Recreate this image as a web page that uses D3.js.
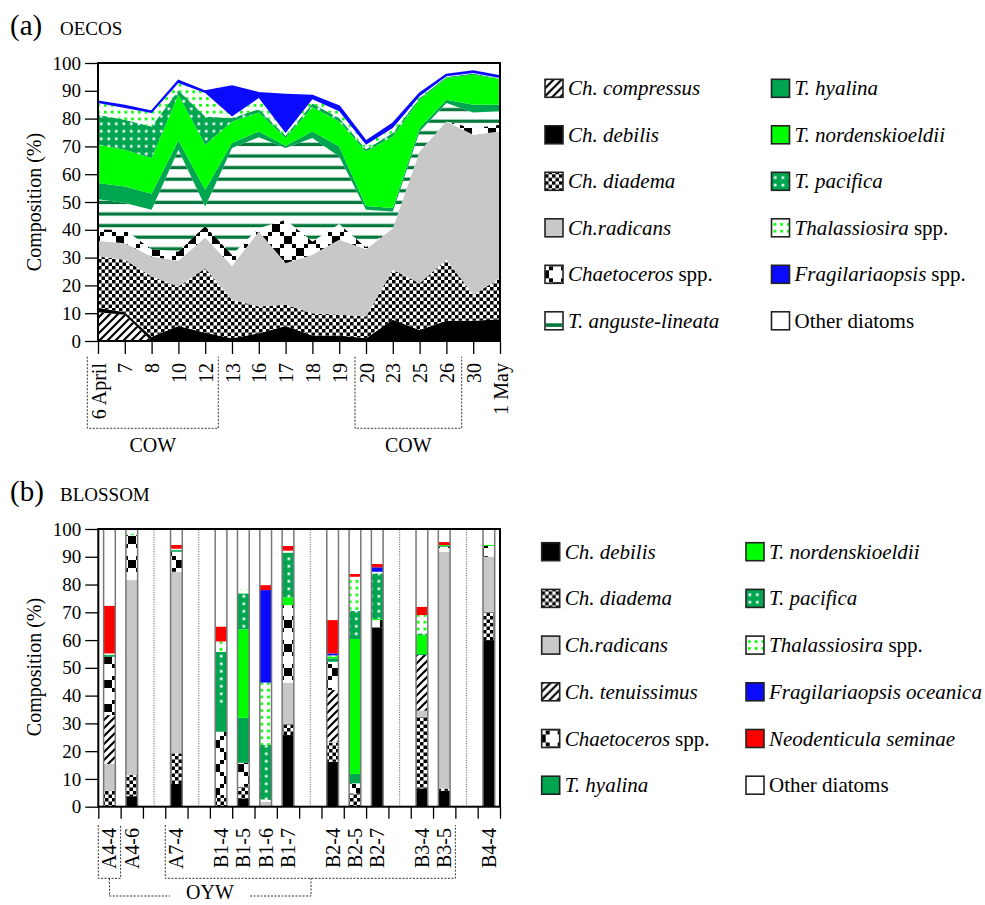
<!DOCTYPE html>
<html>
<head>
<meta charset="utf-8">
<script src="https://cdn.jsdelivr.net/npm/d3@7"></script>
<style>
  body { margin: 0; background: #fff; }
  svg text { font-family: "Liberation Serif", "Times New Roman", serif; fill: #000; }
</style>
</head>
<body>
<svg id="fig" width="985" height="905"></svg>
<script>
// ---------- (a) OECOS: daily composition (%) ----------
const oecosDates = ["6 April", "7", "8", "10", "12", "13", "16", "17", "18", "19", "20", "23", "25", "26", "30", "1 May"];
const aCompressus  = [10.3, 9.4, 0, 0, 0, 0, 0, 0, 0, 0, 0, 0, 0, 0, 0, 0];
const aDebilis     = [1.7, 0.9, 1.5, 5.4, 3.0, 1.0, 2.8, 5.4, 2.0, 2.0, 1.0, 7.6, 4.0, 7.3, 7.3, 7.8];
const aDiadema     = [18.4, 18.9, 21.7, 14.2, 23.2, 13.8, 9.6, 7.6, 8.0, 7.4, 7.8, 18.0, 16.8, 21.9, 9.3, 14.8];
const aRadicans    = [5.7, 6.0, 7.2, 9.3, 11.0, 12.2, 27.0, 15.0, 21.0, 27.0, 24.2, 15.0, 47.4, 49.8, 57.6, 52.8];
const aChaetSpp    = [4.1, 4.8, 2.6, 3.3, 4.2, 4.0, 1.2, 15.6, 4.8, 5.7, 0.7, 0, 0, 0, 2.4, 2.4];
const aAnguste     = [10.8, 9.6, 14.2, 36.6, 7.0, 38.4, 32.7, 25.8, 37.2, 24.3, 13.5, 6.0, 7.2, 6.6, 5.6, 4.8];
const aHyalina     = [5.8, 6.0, 5.8, 3.3, 6.0, 1.8, 2.1, 0.8, 2.4, 3.6, 1.4, 1.2, 1.2, 1.2, 2.8, 2.4];
const aNordensk    = [13.8, 13.2, 12.8, 16.5, 16.2, 7.8, 6.8, 2.8, 8.8, 9.0, 19.6, 25.8, 10.2, 7.8, 10.8, 9.2];
const aPacifica    = [10.8, 10.8, 11.4, 1.6, 10.2, 1.2, 1.2, 0.8, 1.2, 1.2, 0.8, 1.2, 0.6, 0.4, 0.4, 0.2];
const aThalSpp     = [4.2, 4.2, 4.8, 2.6, 8.4, 0.6, 4.0, 1.0, 1.6, 2.4, 1.6, 1.8, 0.6, 0.2, 0.2, 0.2];
const aFragSpp     = [0.6, 0.8, 0.6, 0.8, 0.6, 10.8, 1.8, 13.8, 1.2, 1.8, 1.2, 1.6, 1.0, 0.6, 0.6, 0.6];

// ---------- (b) BLOSSOM: composition (%) per station ----------
const blossomSlots = ["A4-4", "A4-6", "", "A7-4", "", "B1-4", "B1-5", "B1-6", "B1-7", "", "B2-4", "B2-5", "B2-7", "", "B3-4", "B3-5", "", "B4-4"];
const bDebilis     = [0, 3.8, 8.2, 0, 3.0, 0, 25.8, 16.2, 0, 64.6, 6.6, 5.8, 60.0];
const bDiadema     = [5.8, 7.6, 11.0, 4.2, 4.2, 0, 4.0, 6.8, 4.8, 0, 25.8, 0.7, 10.2];
const bRadicans    = [9.6, 70.2, 65.4, 0, 0, 1.8, 14.9, 0.4, 0, 0, 2.2, 85.3, 19.8];
const bTenuissimus = [17.6, 0, 0, 0, 0, 0, 0, 18.6, 0, 0, 20.0, 0, 0];
const bChaetSpp    = [21.0, 16.2, 7.2, 22.8, 8.6, 0.8, 27.9, 10.2, 3.6, 2.6, 0, 1.8, 3.9];
const bHyalina     = [0.6, 0, 0.6, 9.6, 16.2, 0, 0, 1.2, 3.4, 0, 0.4, 0.3, 0];
const bNordensk    = [0, 0, 0, 0, 31.9, 0, 2.8, 0.6, 48.6, 0.4, 6.8, 0.3, 0.4];
const bPacifica    = [0, 0, 0, 19.2, 12.9, 19.6, 16.1, 0, 10.1, 16.4, 0.6, 0, 0];
const bThalSpp     = [0.6, 0.6, 0.5, 3.7, 1.5, 22.5, 0.7, 0.5, 12.3, 0.6, 6.6, 0, 0.3];
const bFragOceanica= [0, 0, 0, 0, 0, 33.3, 0, 0.7, 0, 1.6, 0, 0, 0];
const bNeodent     = [17.2, 0, 1.4, 5.4, 0, 1.8, 1.7, 12.0, 1.0, 1.2, 3.0, 1.1, 0];

const yTicks = d3.range(0, 101, 10);

// ---------- drawing ----------
const svg = d3.select("#fig");
const defs = svg.append("defs");

function pattern(id, w, h, draw) {
  const p = defs.append("pattern").attr("id", id)
    .attr("patternUnits", "userSpaceOnUse").attr("width", w).attr("height", h);
  draw(p);
}
// diagonal hatch
pattern("hatch", 8, 8, p => {
  p.append("rect").attr("width", 8).attr("height", 8).attr("fill", "#fff");
  p.append("path").attr("d", "M-1,9 L9,-1 M-1,1 L1,-1 M7,9 L9,7")
    .attr("stroke", "#000").attr("stroke-width", 2.2);
});
// small checkerboard
pattern("checker", 7, 7, p => {
  p.append("rect").attr("width", 7).attr("height", 7).attr("fill", "#fff");
  p.append("rect").attr("width", 3.5).attr("height", 3.5).attr("fill", "#000");
  p.append("rect").attr("x", 3.5).attr("y", 3.5).attr("width", 3.5).attr("height", 3.5).attr("fill", "#000");
});
// large X lattice made of stepped squares
pattern("lattice", 24, 24, p => {
  p.append("rect").attr("width", 24).attr("height", 24).attr("fill", "#fff");
  d3.range(6).forEach(k => {
    p.append("rect").attr("x", 4 * k).attr("y", 4 * k).attr("width", 4).attr("height", 4).attr("fill", "#000");
    p.append("rect").attr("x", 20 - 4 * k).attr("y", 4 * k).attr("width", 4).attr("height", 4).attr("fill", "#000");
  });
});
// horizontal green stripes
pattern("stripes", 10, 11.6, p => {
  p.append("rect").attr("width", 10).attr("height", 11.6).attr("fill", "#fff");
  p.append("rect").attr("y", 3.55).attr("width", 10).attr("height", 3.3).attr("fill", "#00783c");
});
// dark green with white dots
pattern("greenDots", 7.5, 7.5, p => {
  p.append("rect").attr("width", 7.5).attr("height", 7.5).attr("fill", "#00a550");
  p.append("rect").attr("x", 2.5).attr("y", 2.5).attr("width", 2.6).attr("height", 2.6).attr("fill", "#fff");
});
// white with bright green dots
pattern("whiteDots", 6.8, 6.8, p => {
  p.append("rect").attr("width", 6.8).attr("height", 6.8).attr("fill", "#fff");
  p.append("rect").attr("x", 2).attr("y", 2).attr("width", 2.7).attr("height", 2.7).attr("fill", "#00ff00");
});

const speciesA = [
  { key: "compressus", label: "Ch. compressus", fill: "url(#hatch)", values: aCompressus },
  { key: "debilis", label: "Ch. debilis", fill: "#000", values: aDebilis },
  { key: "diadema", label: "Ch. diadema", fill: "url(#checker)", values: aDiadema },
  { key: "radicans", label: "Ch.radicans", fill: "#c8c8c8", values: aRadicans },
  { key: "chaetSpp", label: "Chaetoceros| spp.", fill: "url(#lattice)", values: aChaetSpp },
  { key: "anguste", label: "T. anguste-lineata", fill: "url(#stripes)", values: aAnguste, swatch: "stripe" },
  { key: "hyalina", label: "T. hyalina", fill: "#00a550", values: aHyalina },
  { key: "nord", label: "T. nordenskioeldii", fill: "#00ff00", values: aNordensk },
  { key: "pacifica", label: "T. pacifica", fill: "url(#greenDots)", values: aPacifica },
  { key: "thal", label: "Thalassiosira| spp.", fill: "url(#whiteDots)", values: aThalSpp },
  { key: "frag", label: "Fragilariaopsis| spp.", fill: "#0a0aff", values: aFragSpp },
  { key: "other", label: "|Other diatoms", fill: "#fff", values: null }
];

const speciesB = [
  { key: "debilis", label: "Ch. debilis", fill: "#000", values: bDebilis },
  { key: "diadema", label: "Ch. diadema", fill: "url(#checker)", values: bDiadema },
  { key: "radicans", label: "Ch.radicans", fill: "#c8c8c8", values: bRadicans },
  { key: "tenuissimus", label: "Ch. tenuissimus", fill: "url(#hatch)", values: bTenuissimus },
  { key: "chaetSpp", label: "Chaetoceros| spp.", fill: "url(#lattice)", values: bChaetSpp },
  { key: "hyalina", label: "T. hyalina", fill: "#00a550", values: bHyalina },
  { key: "nord", label: "T. nordenskioeldii", fill: "#00ff00", values: bNordensk },
  { key: "pacifica", label: "T. pacifica", fill: "url(#greenDots)", values: bPacifica },
  { key: "thal", label: "Thalassiosira| spp.", fill: "url(#whiteDots)", values: bThalSpp },
  { key: "frag", label: "Fragilariaopsis oceanica", fill: "#0a0aff", values: bFragOceanica },
  { key: "neodent", label: "Neodenticula seminae", fill: "#ff0000", values: bNeodent },
  { key: "other", label: "|Other diatoms", fill: "#fff", values: null }
];

function buildRows(names, species) {
  return names.map((n, i) => {
    const r = { name: n };
    let s = 0;
    species.forEach(sp => { if (sp.values) { r[sp.key] = sp.values[i]; s += sp.values[i]; } });
    r.other = Math.max(0, 100 - s);
    return r;
  });
}

function yAxisTitle(cy) {
  svg.append("text").attr("transform", `translate(41,${cy}) rotate(-90)`)
    .attr("text-anchor", "middle").attr("font-size", 20).text("Composition (%)");
}

function styleAxis(g, fs) {
  g.selectAll("text").attr("font-size", fs).style("font-family", '"Liberation Serif","Times New Roman",serif').attr("fill", "#000");
  g.selectAll("line").attr("stroke", "#000").attr("stroke-width", 1.3);
  g.select(".domain").remove();
}

function legend(species, x1, x2, y0, dy) {
  species.forEach((sp, i) => {
    const x = i < 6 ? x1 : x2;
    const y = y0 + (i % 6) * dy;
    const g = svg.append("g").attr("transform", `translate(${x},${y})`);
    g.append("rect").attr("x", 0).attr("y", -9).attr("width", 18).attr("height", 18)
      .attr("fill", sp.swatch === "stripe" ? "#fff" : sp.fill)
      .attr("stroke", "#222").attr("stroke-width", 1.6);
    if (sp.swatch === "stripe") {
      g.append("rect").attr("x", 0.8).attr("y", 2.5).attr("width", 16.4).attr("height", 3.6).attr("fill", "#00783c");
    }
    const parts = sp.label.split("|");
    const t = g.append("text").attr("x", 23).attr("y", 7).attr("font-size", 21);
    if (parts[0]) t.append("tspan").attr("font-style", "italic").text(parts[0]);
    if (parts.length > 1) t.append("tspan").attr("dx", parts[0] ? 5 : 0).text(parts[1].trim());
  });
}

function dashedPath(d) {
  svg.append("path").attr("d", d).attr("fill", "none")
    .attr("stroke", "#333").attr("stroke-width", 1).attr("stroke-dasharray", "2,1.5");
}

// ===== Panel (a) =====
const xA = d3.scalePoint().domain(oecosDates).range([98, 500]);
const yA = d3.scaleLinear().domain([0, 100]).range([341, 63]);
const rowsA = buildRows(oecosDates, speciesA);
const stackA = d3.stack().keys(speciesA.map(s => s.key))(rowsA);
const areaA = d3.area().x(d => xA(d.data.name)).y0(d => yA(d[0])).y1(d => yA(d[1]));

svg.append("g").selectAll("path").data(stackA).join("path")
  .attr("d", areaA)
  .attr("fill", (d, i) => speciesA[i].fill);

// blue rim along the top of Fragilariaopsis
const fragLayer = stackA.find(l => l.key === "frag");
svg.append("path").datum(fragLayer)
  .attr("d", d3.line().x(d => xA(d.data.name)).y(d => yA(d[1])))
  .attr("fill", "none").attr("stroke", "#0a0aff").attr("stroke-width", 2);

svg.append("rect").attr("x", 98).attr("y", 63).attr("width", 402).attr("height", 278)
  .attr("fill", "none").attr("stroke", "#000").attr("stroke-width", 2);

const gyA = svg.append("g").attr("transform", "translate(98,0)")
  .call(d3.axisLeft(yA).tickValues(yTicks).tickSize(13).tickPadding(4).tickSizeOuter(0));
styleAxis(gyA, 19);

const gxA = svg.append("g").attr("transform", "translate(0,341)")
  .call(d3.axisBottom(xA).tickSize(13).tickPadding(8).tickSizeOuter(0));
styleAxis(gxA, 20);
gxA.selectAll(".tick text")
  .attr("transform", "rotate(-90)")
  .attr("text-anchor", "end").attr("x", -22).attr("y", 0).attr("dy", "0.35em");

// COW brackets
dashedPath("M87.3,356.7 V428.3 H218.3 V356.7");
dashedPath("M355,356.7 V428.3 H461.7 V356.7");
svg.append("text").attr("x", 152.8).attr("y", 452).attr("text-anchor", "middle").attr("font-size", 20).text("COW");
svg.append("text").attr("x", 408.3).attr("y", 452).attr("text-anchor", "middle").attr("font-size", 20).text("COW");

yAxisTitle(202);
svg.append("text").attr("x", 10).attr("y", 35).attr("font-size", 29).text("(a)");
svg.append("text").attr("x", 60).attr("y", 35).attr("font-size", 19).text("OECOS");
legend(speciesA, 545, 771.5, 88.3, 46.5);

// ===== Panel (b) =====
const slotIdx = d3.range(blossomSlots.length);
const xB = d3.scaleBand().domain(slotIdx).range([98.3, 500]).paddingInner(0.475).paddingOuter(0.2375);
const xSlot = d3.scaleLinear().domain([0, blossomSlots.length]).range([98.3, 500]);
const yB = d3.scaleLinear().domain([0, 100]).range([806.7, 529]);

const sampleSlots = slotIdx.filter(i => blossomSlots[i] !== "");
const sampleNames = sampleSlots.map(i => blossomSlots[i]);
const rowsB = buildRows(sampleNames, speciesB);
rowsB.forEach((r, k) => { r.slot = sampleSlots[k]; });
const stackB = d3.stack().keys(speciesB.map(s => s.key))(rowsB);

// dotted dividers in the empty slots
svg.append("g").selectAll("line").data(slotIdx.filter(i => blossomSlots[i] === "")).join("line")
  .attr("x1", i => xB(i) + xB.bandwidth() / 2).attr("x2", i => xB(i) + xB.bandwidth() / 2)
  .attr("y1", yB(0)).attr("y2", yB(100))
  .attr("stroke", "#888").attr("stroke-width", 1.2).attr("stroke-dasharray", "1.2,1.2");

svg.append("g").selectAll("g").data(stackB).join("g")
  .attr("fill", (d, i) => speciesB[i].fill)
  .selectAll("rect").data(d => d.filter(s => s[1] - s[0] > 0)).join("rect")
  .attr("x", d => xB(d.data.slot)).attr("width", xB.bandwidth())
  .attr("y", d => yB(d[1])).attr("height", d => yB(d[0]) - yB(d[1]));

// bar edges
const edges = svg.append("g").attr("stroke", "#777").attr("stroke-width", 1.5);
sampleSlots.forEach(i => {
  [xB(i), xB(i) + xB.bandwidth()].forEach(x => {
    edges.append("line").attr("x1", x).attr("x2", x).attr("y1", yB(0)).attr("y2", yB(100));
  });
});

svg.append("rect").attr("x", 98.3).attr("y", 529).attr("width", 401.7).attr("height", 277.7)
  .attr("fill", "none").attr("stroke", "#000").attr("stroke-width", 2);

const gyB = svg.append("g").attr("transform", "translate(98.3,0)")
  .call(d3.axisLeft(yB).tickValues(yTicks).tickSize(13).tickPadding(4).tickSizeOuter(0));
styleAxis(gyB, 19);

const gxB = svg.append("g").attr("transform", "translate(0,806.7)")
  .call(d3.axisBottom(xSlot).tickValues(d3.range(blossomSlots.length + 1)).tickSize(12).tickFormat("").tickSizeOuter(0));
styleAxis(gxB, 20);

svg.append("g").selectAll("text").data(sampleSlots).join("text")
  .attr("transform", i => `translate(${xSlot(i + 0.5)},828) rotate(-90)`)
  .attr("text-anchor", "end").attr("dy", "0.35em").attr("font-size", 20)
  .text(i => blossomSlots[i]);

// OYW brackets
dashedPath(`M${xSlot(0)},825 V878.3 H${xSlot(1)} V825`);
dashedPath(`M${xSlot(3)},825 V878.3 H${xSlot(16)} V825`);
dashedPath(`M${xSlot(0.5)},878.3 V896 H170`);
dashedPath(`M250,896 H311 V878.3`);
svg.append("text").attr("x", 210).attr("y", 899).attr("text-anchor", "middle").attr("font-size", 20).text("OYW");

yAxisTitle(667);
svg.append("text").attr("x", 10).attr("y", 501).attr("font-size", 29).text("(b)");
svg.append("text").attr("x", 60).attr("y", 501).attr("font-size", 19).text("BLOSSOM");
legend(speciesB, 541.7, 746, 551.7, 46.7);
</script>
</body>
</html>
